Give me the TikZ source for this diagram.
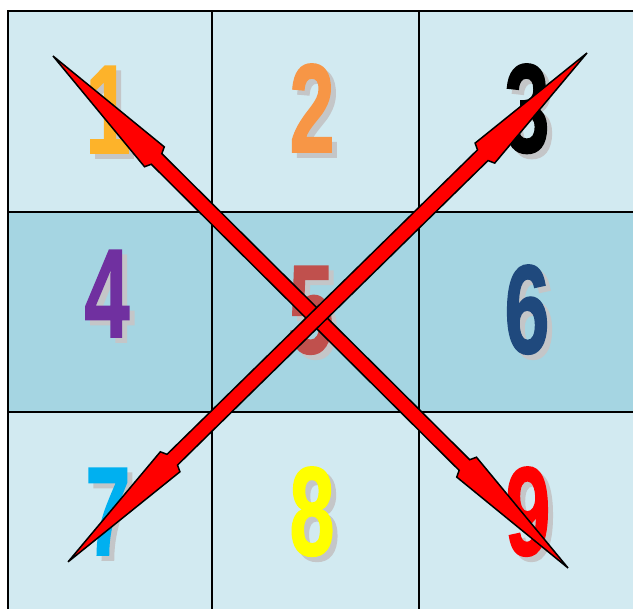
\documentclass[tikz,border=0pt]{standalone}
\usepackage{fontspec}
\newfontfamily\digitfont{Liberation Sans}[BoldFeatures={FakeBold=1.5}]
\usetikzlibrary{calc}
\definecolor{celllight}{HTML}{D2EAF1}
\definecolor{celldark}{HTML}{A5D5E2}
\definecolor{shadowgray}{HTML}{C4C6C8}
\definecolor{cone}{HTML}{FDB32A}
\definecolor{ctwo}{HTML}{F79646}
\definecolor{cthree}{HTML}{000000}
\definecolor{cfour}{HTML}{7030A0}
\definecolor{cfive}{HTML}{C0504D}
\definecolor{csix}{HTML}{1F497D}
\definecolor{cseven}{HTML}{00B0F0}
\definecolor{ceight}{HTML}{FFFF00}
\definecolor{cnine}{HTML}{FF0000}
\tikzset{
  gridline/.style={line width=2pt, black},
  digit/.style={anchor=base, inner sep=0pt, font=\digitfont\bfseries\fontsize{126}{126}\selectfont},
  arrowbody/.style={fill=red, draw=black, line width=1.5pt, line join=miter}
}
\newcommand{\digitat}[4]{%
  \node[digit, text=shadowgray] (#1s) at ($(#2)+(5,5)$) {\scalebox{0.64}[1]{#3}};
  \node[digit, text=#4] (#1) at (#2) {\scalebox{0.64}[1]{#3}};
}
\begin{document}
\begin{tikzpicture}[x=1pt,y=-1pt]
\useasboundingbox (0,0) rectangle (633,609);
\fill[white] (0,0) rectangle (633,609);
\fill[celllight] (8,11) rectangle (633,212);
\fill[celldark] (8,212) rectangle (633,412);
\fill[celllight] (8,412) rectangle (633,609);
\draw[gridline] (8,609) -- (8,11) -- (633,11);
\draw[gridline] (212,11) -- (212,609);
\draw[gridline] (419,11) -- (419,609);
\draw[gridline] (8,212) -- (633,212);
\draw[gridline] (8,412) -- (633,412);
% digit positions (centre x, baseline y)
\coordinate (p1) at (108,153);
\coordinate (p2) at (312,152);
\coordinate (p3) at (527,152);
\coordinate (p4) at (107,337);
\coordinate (p5) at (311,353);
\coordinate (p6) at (527,353);
\coordinate (p7) at (108,555);
\coordinate (p8) at (312,555);
\coordinate (p9) at (528,555);
\digitat{d1}{p1}{1}{cone}
\digitat{d2}{p2}{2}{ctwo}
\digitat{d3}{p3}{3}{cthree}
\digitat{d4}{p4}{4}{cfour}
\digitat{d5}{p5}{5}{cfive}
\digitat{d6}{p6}{6}{csix}
\digitat{d7}{p7}{7}{cseven}
\digitat{d8}{p8}{8}{ceight}
\digitat{d9}{p9}{9}{cnine}
% arrows
\coordinate (a1) at (53,56);
\coordinate (b1) at (568,568);
\coordinate (a2) at (587,53);
\coordinate (b2) at (68,562);
\begin{scope}[shift={(a1)}, rotate=-44.83]
\draw[arrowbody] (0,0) -- (143,14) -- (146,7.5) -- (580.2,7.5) -- (583.2,14) -- (726.2,0)
  -- (583.2,-14) -- (580.2,-7.5) -- (146,-7.5) -- (143,-14) -- cycle;
\end{scope}
\begin{scope}[shift={(a2)}, rotate=-135.56]
\draw[arrowbody] (0,0) -- (143,14) -- (146,7.5) -- (580.9,7.5) -- (583.9,14) -- (726.9,0)
  -- (583.9,-14) -- (580.9,-7.5) -- (146,-7.5) -- (143,-14) -- cycle;
\end{scope}
\end{tikzpicture}
\end{document}
